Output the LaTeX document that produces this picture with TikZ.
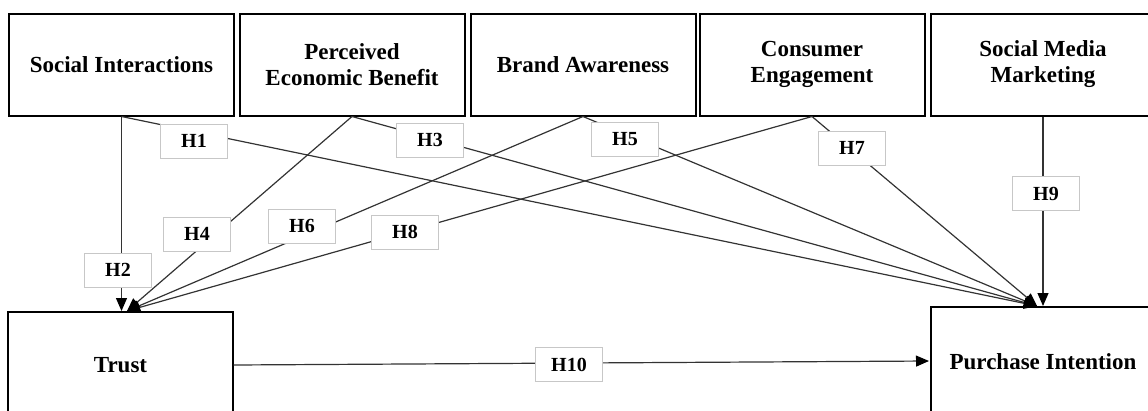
\documentclass[tikz,border=0pt]{standalone}
\usepackage{fontspec}
\setmainfont{Liberation Serif}
\usetikzlibrary{arrows.meta}
\begin{document}
\begin{tikzpicture}[x=1pt,y=-1pt,
  varbox/.style={draw=black, line width=2pt, minimum width=225pt, minimum height=102pt,
    inner sep=0pt, align=center, font=\fontsize{23}{26}\selectfont\bfseries},
  lowbox/.style={varbox, minimum height=120pt},
  hyp/.style={draw=black!22, fill=white, line width=1pt, minimum width=67pt, minimum height=34pt,
    inner sep=0pt, font=\fontsize{20}{24}\selectfont\bfseries},
  conn/.style={draw=black!80, line width=1.2pt, -{Triangle[length=13pt,width=11pt,color=black]}}]
\useasboundingbox (0,0) rectangle (1148,410);
\clip (0,0) rectangle (1148,410);
% top constructs
\node[varbox] (si)  at (121.5,64.5) {Social Interactions};
\node[varbox] (peb) at (352,64.5) {Perceived\\Economic Benefit};
\node[varbox] (ba)  at (583,64.5) {Brand Awareness};
\node[varbox] (ce)  at (812,64.5) {Consumer\\Engagement};
\node[varbox] (smm) at (1043,64.5) {Social Media\\Marketing};
% bottom constructs (cut by the lower edge)
\node[lowbox] (trust) at (120.5,372) {\raisebox{15pt}{Trust}};
\node[lowbox] (pi) at (1043,367) {\raisebox{11pt}{Purchase Intention}};
% arrow targets
\coordinate (tT) at (127,311);
\coordinate (pT) at (1037,306);
\coordinate (tE) at (233.5,365);
\coordinate (pW) at (929,361);
% connectors
\draw[conn] (si.south) -- (pT);
\draw[conn] (si.south) -- (si.south |- trust.north);
\draw[conn] (peb.south) -- (pT);
\draw[conn] (peb.south) -- (tT);
\draw[conn] (ba.south) -- (pT);
\draw[conn] (ba.south) -- (tT);
\draw[conn] (ce.south) -- (pT);
\draw[conn] (ce.south) -- (tT);
\draw[conn] (smm.south) -- (smm.south |- pi.north);
\draw[conn] (tE) -- (pW);
% hypothesis labels
\node[hyp] (h1) at (194,141) {H1};
\node[hyp] (h2) at (118,270) {H2};
\node[hyp] (h3) at (430,140) {H3};
\node[hyp] (h4) at (197,234) {H4};
\node[hyp] (h5) at (625,139) {H5};
\node[hyp] (h6) at (302,226) {H6};
\node[hyp] (h7) at (852,148) {H7};
\node[hyp] (h8) at (405,232) {H8};
\node[hyp] (h9) at (1046,193.5) {H9};
\node[hyp] (h10) at (569,364.5) {H10};
\end{tikzpicture}
\end{document}
